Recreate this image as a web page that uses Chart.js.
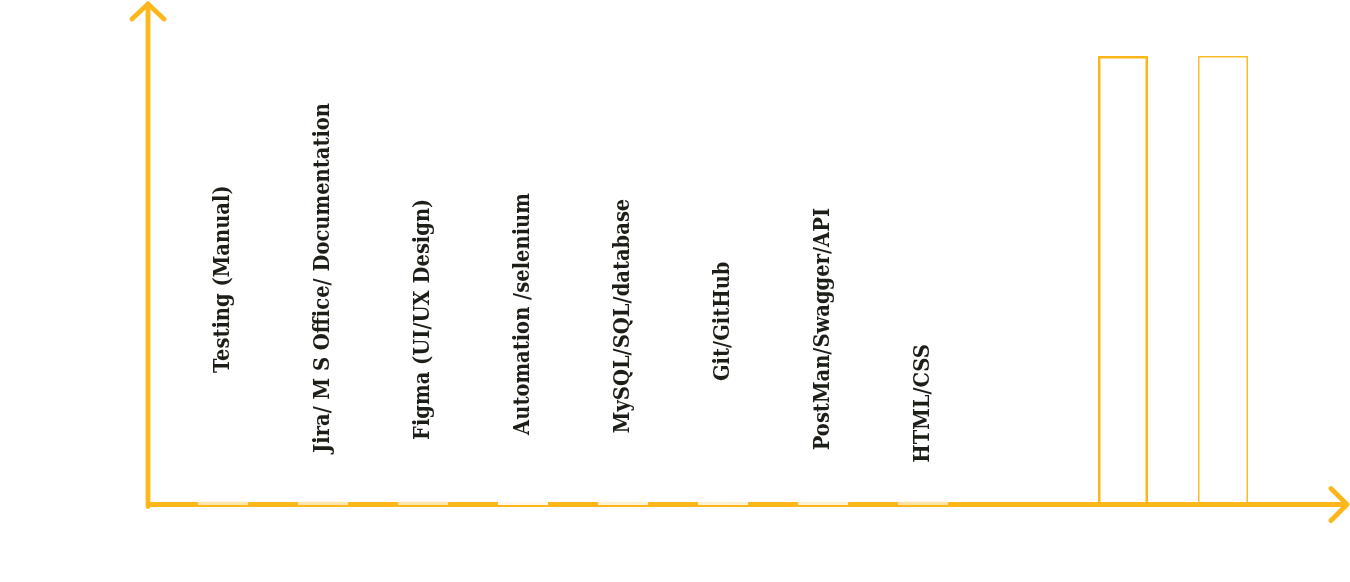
<!DOCTYPE html>
<html>
<head>
<meta charset="utf-8">
<style>
  html, body { margin: 0; padding: 0; background: #ffffff; }
  #wrap { width: 1350px; height: 582px; }
</style>
<script src="https://cdn.jsdelivr.net/npm/chart.js@4"></script>
</head>
<body>
<div id="wrap"><canvas id="c" width="1350" height="582"></canvas></div>
<script>
// ---- data ----
const categories = [
  "Testing (Manual)",
  "Jira/ M S Office/ Documentation",
  "Figma (UI/UX Design)",
  "Automation /selenium",
  "MySQL/SQL/database",
  "Git/GitHub",
  "PostMan/Swagger/API",
  "HTML/CSS",
  "",
  "",
  ""
];
const skillValues = [0.75, 0.75, 0.75, 0.75, 0.75, 0.75, 0.75, 0.75, 0, 100, 100];
const labelBase = [29.4, 11.6, 14.5, 15.6, 16.0, 27.6, 12.2, 9.4, 0, 0, 0];
const barFills = ["#FDE6AE", "#FDE6AE", "#FDE6AE", "#FFF9EC", "#FEF2D4", "#FEF2D4", "#FEF2D4", "#FCE3A8", "rgba(0,0,0,0)", "rgba(255,255,255,0)", "rgba(255,255,255,0)"];
const barBorders = ["rgba(0,0,0,0)", "rgba(0,0,0,0)", "rgba(0,0,0,0)", "rgba(0,0,0,0)", "rgba(0,0,0,0)", "rgba(0,0,0,0)", "rgba(0,0,0,0)", "rgba(0,0,0,0)", "rgba(0,0,0,0)", "#FDB71A", "#F9BC2A"];
const barBorderWidths = [0, 0, 0, 0, 0, 0, 0, 0, 0, 2.5, 1.5];

const AXIS_COLOR = "#FDB71A";

const axisArrows = {
  id: "axisArrows",
  beforeDatasetsDraw(chart) {
    const { ctx, chartArea } = chart;
    const x0 = chartArea.left - 25;
    const y0 = chartArea.bottom - 0.5;
    const topTip = chartArea.top - 52;
    const rightTip = chartArea.right + 74;
    ctx.save();
    ctx.strokeStyle = AXIS_COLOR;
    ctx.lineWidth = 4.8;
    ctx.lineCap = "round";
    ctx.lineJoin = "round";
    // y axis
    ctx.beginPath();
    ctx.moveTo(x0, y0 + 2);
    ctx.lineTo(x0, topTip);
    ctx.stroke();
    ctx.beginPath();
    ctx.moveTo(x0 - 16, topTip + 15);
    ctx.lineTo(x0, topTip);
    ctx.lineTo(x0 + 16, topTip + 15);
    ctx.stroke();
    // x axis
    ctx.lineCap = "butt";
    ctx.beginPath();
    ctx.moveTo(x0 - 2, y0);
    ctx.lineTo(rightTip, y0);
    ctx.stroke();
    ctx.lineCap = "round";
    ctx.beginPath();
    ctx.moveTo(rightTip - 16, y0 - 16);
    ctx.lineTo(rightTip, y0);
    ctx.lineTo(rightTip - 16, y0 + 16);
    ctx.stroke();
    ctx.restore();
  }
};

const verticalLabels = {
  id: "verticalLabels",
  afterDatasetsDraw(chart) {
    const { ctx, scales } = chart;
    ctx.save();
    ctx.fillStyle = "#1c1f17";
    ctx.font = "bold 21.7px 'DejaVu Serif Condensed', 'DejaVu Serif'";
    ctx.textAlign = "left";
    ctx.textBaseline = "middle";
    categories.forEach((label, i) => {
      if (!label) return;
      const x = scales.x.getPixelForValue(i);
      const y = scales.y.getPixelForValue(labelBase[i]);
      ctx.save();
      ctx.translate(x, y);
      ctx.rotate(-Math.PI / 2);
      ctx.fillText(label, 0, 0);
      ctx.restore();
    });
    ctx.restore();
  }
};

new Chart(document.getElementById("c"), {
  type: "bar",
  data: {
    labels: categories,
    datasets: [{
      label: "Skills",
      data: skillValues,
      backgroundColor: barFills,
      borderColor: barBorders,
      borderWidth: barBorderWidths,
      barPercentage: 0.5,
      categoryPercentage: 1.0
    }]
  },
  options: {
    responsive: false,
    animation: false,
    layout: { padding: { left: 173, right: 77, top: 56, bottom: 77 } },
    plugins: {
      legend: { display: false },
      tooltip: { enabled: false }
    },
    scales: {
      x: { display: false, offset: true },
      y: { display: false, min: 0, max: 100 }
    }
  },
  plugins: [axisArrows, verticalLabels]
});
</script>
</body>
</html>
